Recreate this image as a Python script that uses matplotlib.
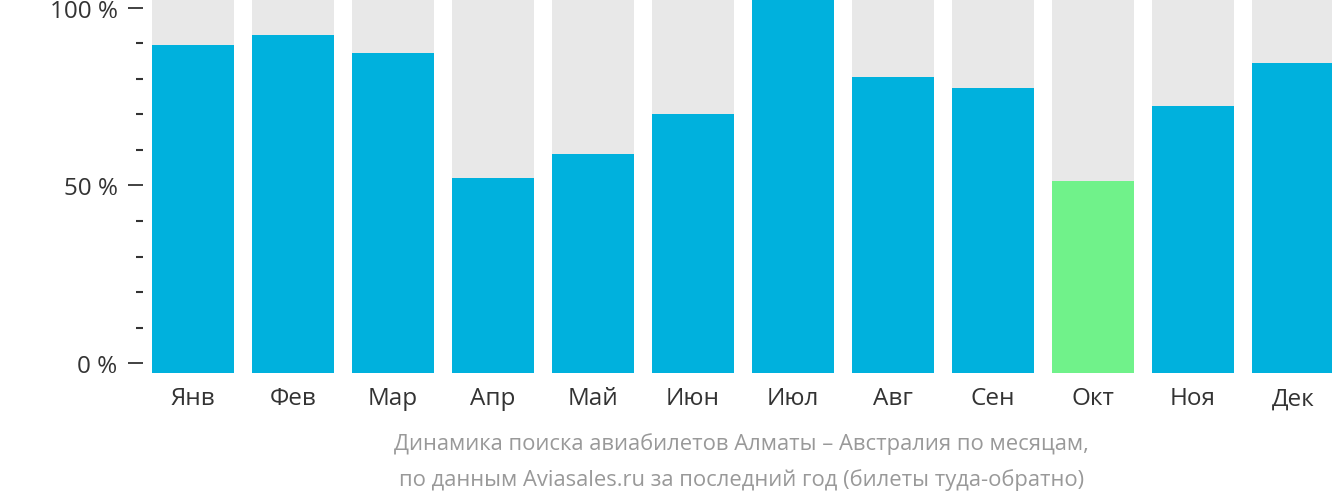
import matplotlib
matplotlib.use("Agg")
import matplotlib.pyplot as plt
import numpy as np

months = ["Янв", "Фев", "Мар", "Апр", "Май", "Июн", "Июл", "Авг", "Сен", "Окт", "Ноя", "Дек"]
values = [89.6, 92.4, 87.3, 52.2, 59.0, 70.2, 102.5, 80.4, 77.5, 51.3, 72.5, 84.5]
highlight = "Окт"
yticks_major = [0, 50, 100]
ytick_labels = ["0 %", "50 %", "100 %"]
caption = ["Динамика поиска авиабилетов Алматы – Австралия по месяцам,",
           "по данным Aviasales.ru за последний год (билеты туда-обратно)"]

plt.rcParams['font.family'] = ['Open Sans', 'DejaVu Sans']

W, H = 1332, 502
fig = plt.figure(figsize=(W/100, H/100), dpi=100)
ax = fig.add_axes([143/W, (H-374)/H, (W-143)/W, 374/H])

ymin, ymax = -2.8, 102.5
x = np.arange(len(months))
bw = 0.82
ax.bar(x, ymax - ymin, bottom=ymin, width=bw, color="#e8e8e8", zorder=1)
colors = ["#70f28a" if m == highlight else "#00b1dd" for m in months]
ax.bar(x, np.array(values) - ymin, bottom=ymin, width=bw, color=colors, zorder=2)

ax.set_xlim(-0.5, 11.39)
ax.set_ylim(ymin, ymax)
for s in ax.spines.values():
    s.set_visible(False)

ax.set_xticks(x)
ax.set_xticklabels(months, fontsize=17.5, color="#333333")
ax.tick_params(axis='x', length=0, pad=9.5)

ax.set_yticks(yticks_major)
ax.set_yticklabels(ytick_labels, fontsize=17.5, color="#333333")
ax.set_yticks([v for v in range(10, 100, 10) if v != 50], minor=True)
ax.tick_params(axis='y', which='major', length=10.8, width=1.3, color="#333333", pad=7.5)
ax.tick_params(axis='y', which='minor', length=5, width=1.5, color="#333333")

cx = 741.5 / W
fig.text(cx, 1 - 444/H, caption[0], ha='center', va='center', fontsize=15.8, color="#999999")
fig.text(cx, 1 - 480/H, caption[1], ha='center', va='center', fontsize=15.8, color="#999999")

fig.savefig("out.png", dpi=100)
